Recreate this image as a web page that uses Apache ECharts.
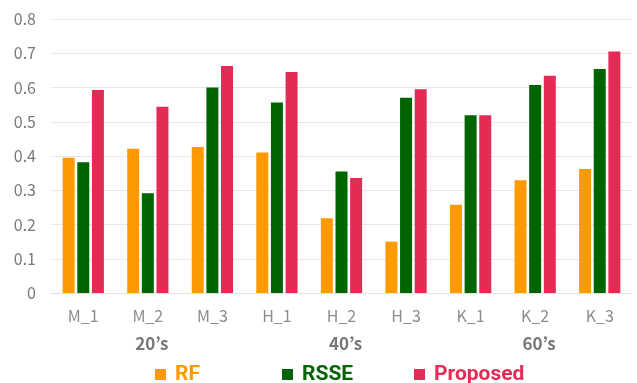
<!DOCTYPE html>
<html>
<head>
<meta charset="utf-8">
<script src="https://cdn.jsdelivr.net/npm/echarts@6/dist/echarts.min.js"></script>
<style>
html, body { margin: 0; padding: 0; background: #fff; }
#chart { width: 637px; height: 383px; }
</style>
</head>
<body>
<div id="chart"></div>
<script>
var categories = ['M_1', 'M_2', 'M_3', 'H_1', 'H_2', 'H_3', 'K_1', 'K_2', 'K_3']
var groups = ['', '20’s', '', '', '40’s', '', '', '60’s', '']
var rf = [0.395, 0.421, 0.426, 0.410, 0.218, 0.150, 0.258, 0.329, 0.362]
var rsse = [0.382, 0.291, 0.600, 0.556, 0.355, 0.570, 0.519, 0.607, 0.654]
var proposed = [0.593, 0.544, 0.663, 0.645, 0.336, 0.595, 0.519, 0.634, 0.705]
var yTicks = [0, 0.1, 0.2, 0.3, 0.4, 0.5, 0.6, 0.7, 0.8]

var colors = { RF: '#fe9a01', RSSE: '#006400', Proposed: '#e32b55' }
var axisFont = '"Noto Sans CJK JP", "Noto Sans", sans-serif'
var legendFont = '"Liberation Sans Narrow", "Roboto", sans-serif'

function legendAt(name, left) {
  return {
    left: left,
    top: 359,
    itemWidth: 11,
    itemHeight: 11,
    icon: 'rect',
    selectedMode: false,
    data: [{ name: name, textStyle: { color: colors[name] } }],
    textStyle: {
      fontFamily: legendFont,
      fontWeight: 'bold',
      fontSize: 21,
      padding: [0, 0, 0, 4]
    }
  }
}

function barSeries(name, values) {
  return {
    name: name,
    type: 'bar',
    data: values,
    barWidth: 12,
    barGap: '22%',
    itemStyle: { color: colors[name] }
  }
}

var chart = echarts.init(document.getElementById('chart'))
chart.setOption({
  animation: false,
  grid: { left: 51, right: 5, top: 19, bottom: 90, containLabel: false },
  legend: [legendAt('RF', 150), legendAt('RSSE', 277), legendAt('Proposed', 409)],
  xAxis: {
    type: 'category',
    data: categories,
    axisLine: { lineStyle: { color: '#e2e2e2', width: 1 } },
    axisTick: { show: false },
    axisLabel: {
      interval: 0,
      hideOverlap: false,
      margin: 10,
      verticalAlign: 'top',
      color: '#8c8c8c',
      fontFamily: axisFont,
      fontSize: 16,
      lineHeight: 26,
      formatter: function (val, idx) {
        return groups[idx] ? val + '\n{g|' + groups[idx] + '}' : val
      },
      rich: {
        g: {
          color: '#777777',
          fontFamily: axisFont,
          fontWeight: 'bold',
          fontSize: 17,
          lineHeight: 30,
          padding: [0, 0, 0, 8]
        }
      }
    }
  },
  yAxis: {
    type: 'value',
    min: yTicks[0],
    max: yTicks[yTicks.length - 1],
    interval: 0.1,
    axisLine: { show: false },
    axisTick: { show: false },
    splitLine: { lineStyle: { color: '#e6e6e6', width: 1 } },
    axisLabel: {
      margin: 15,
      color: '#7a7a7a',
      fontFamily: axisFont,
      fontSize: 16,
      formatter: function (v) {
        return v === 0 ? '0' : v.toFixed(1)
      }
    }
  },
  series: [barSeries('RF', rf), barSeries('RSSE', rsse), barSeries('Proposed', proposed)]
})
</script>
</body>
</html>
